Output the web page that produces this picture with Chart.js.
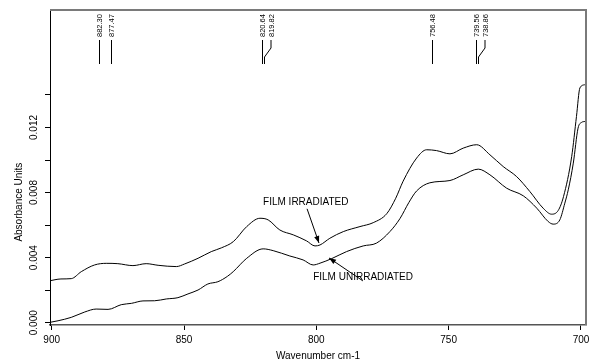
<!DOCTYPE html>
<html><head><meta charset="utf-8">
<script src="https://cdn.jsdelivr.net/npm/chart.js@4/dist/chart.umd.min.js"></script>
<style>html,body{margin:0;padding:0;background:#fff;}canvas{display:block;}</style>
</head><body>
<canvas id="c" width="594" height="362"></canvas>
<script>
// ---- data ----
const irradiatedWavenumber = [901.0, 896.5, 892.6, 888.8, 883.8, 879.4, 875.0, 869.3, 864.3, 859.8, 852.9, 849.8, 844.7, 839.7, 835.9, 831.4, 826.3, 821.3, 818.2, 813.8, 808.7, 803.7, 800.5, 798.6, 794.9, 789.8, 783.5, 778.5, 773.4, 770.0, 767.2, 762.1, 758.3, 754.6, 749.5, 744.5, 739.4, 734.4, 729.4, 724.3, 719.3, 714.3, 711.1, 708.6, 706.6, 703.5, 701.7, 700.4, 698.5];
const irradiatedAbsorbance = [0.00257, 0.00269, 0.00271, 0.00314, 0.00355, 0.00365, 0.00363, 0.00351, 0.00363, 0.00353, 0.00345, 0.00361, 0.00396, 0.00437, 0.00460, 0.00498, 0.00591, 0.00642, 0.00632, 0.00570, 0.00540, 0.00503, 0.00472, 0.00478, 0.00519, 0.00560, 0.00591, 0.00615, 0.00670, 0.00765, 0.00870, 0.01012, 0.01063, 0.01058, 0.01038, 0.01073, 0.01094, 0.01032, 0.00960, 0.00898, 0.00806, 0.00704, 0.00667, 0.00690, 0.00775, 0.01022, 0.01268, 0.01443, 0.01463];
const unirradiatedWavenumber = [901.4, 897.6, 892.6, 887.5, 883.2, 878.7, 873.7, 869.9, 865.5, 861.1, 856.7, 852.3, 848.5, 844.7, 841.0, 837.2, 833.6, 831.4, 826.3, 820.1, 816.3, 810.0, 805.0, 801.2, 798.6, 794.2, 788.6, 782.3, 777.3, 772.2, 768.4, 765.0, 762.1, 757.1, 749.5, 744.5, 738.8, 734.4, 728.1, 721.8, 716.7, 712.4, 710.5, 708.0, 706.1, 704.8, 702.9, 701.1, 699.8, 698.5];
const unirradiatedAbsorbance = [0.00000, 0.00012, 0.00033, 0.00066, 0.00084, 0.00082, 0.00111, 0.00119, 0.00134, 0.00135, 0.00146, 0.00154, 0.00177, 0.00201, 0.00238, 0.00252, 0.00285, 0.00314, 0.00396, 0.00454, 0.00443, 0.00410, 0.00386, 0.00355, 0.00366, 0.00394, 0.00437, 0.00472, 0.00489, 0.00560, 0.00640, 0.00740, 0.00810, 0.00860, 0.00874, 0.00909, 0.00944, 0.00909, 0.00827, 0.00780, 0.00704, 0.00622, 0.00606, 0.00632, 0.00735, 0.00817, 0.00981, 0.01196, 0.01231, 0.01237];
const xTickValues = [900, 850, 800, 750, 700];
const yTickValues = [0, 0.002, 0.004, 0.006, 0.008, 0.010, 0.012, 0.014];
const yLabelValues = [0, 0.004, 0.008, 0.012];
const peakWavenumbers = [882.30, 877.47, 820.64, 819.82, 756.48, 739.56, 738.86];
const peakLabels = ['882.30', '877.47', '820.64', '819.82', '756.48', '739.56', '738.86'];
const annotationTexts = ['FILM IRRADIATED', 'FILM UNIRRADIATED'];
// annotation anchors in data units: [text x, text y, arrow tail x, tail y, arrow tip x, tip y]
const annotationAnchors = [
  [804.0, 0.00738, 803.5, 0.00700, 799.0, 0.00490],
  [801.2, 0.00277, 782.4, 0.00257, 795.2, 0.00398]
];

const FONT = '"Liberation Sans", Arial, sans-serif';

function toPoints(xs, ys) { return xs.map((v, i) => ({x: v, y: ys[i]})); }

const extras = {
  id: 'extras',
  afterDraw(chart) {
    const ctx = chart.ctx, a = chart.chartArea, xs = chart.scales.x, ys = chart.scales.y;
    ctx.save();
    // frame: top and right gray
    ctx.strokeStyle = '#7a7a7a';
    ctx.lineWidth = 2;
    ctx.beginPath();
    ctx.moveTo(a.left, a.top); ctx.lineTo(a.right, a.top); ctx.lineTo(a.right, a.bottom);
    ctx.stroke();

    // y tick labels (rotated)
    ctx.fillStyle = '#000';
    ctx.font = '10px ' + FONT;
    ctx.textAlign = 'center'; ctx.textBaseline = 'middle';
    yLabelValues.forEach(v => {
      const py = ys.getPixelForValue(v);
      ctx.save(); ctx.translate(a.left - 16, py); ctx.rotate(-Math.PI / 2);
      ctx.fillText(v.toFixed(3), 0, 0); ctx.restore();
    });
    // y title
    ctx.save(); ctx.translate(a.left - 31, a.top + (a.bottom - a.top) * 0.61); ctx.rotate(-Math.PI / 2);
    ctx.fillText('Absorbance Units', 0, 0); ctx.restore();

    // peak markers
    ctx.strokeStyle = '#000'; ctx.lineWidth = 1;
    ctx.font = '7.5px ' + FONT;
    ctx.textAlign = 'left'; ctx.textBaseline = 'middle';
    peakWavenumbers.forEach((w, i) => {
      const xp = Math.round(xs.getPixelForValue(w)) + 0.5;
      const shifted = i > 0 && Math.abs(peakWavenumbers[i - 1] - w) < 2;
      const lx = shifted ? xp + 6.5 : xp;
      const t0 = a.top + 30, t1 = a.top + 38, t2 = a.top + 47, t3 = a.top + 54;
      ctx.beginPath();
      if (shifted) {
        ctx.moveTo(lx, t0); ctx.lineTo(lx, t1); ctx.lineTo(xp, t2); ctx.lineTo(xp, t3);
      } else {
        ctx.moveTo(xp, t0); ctx.lineTo(xp, t3);
      }
      ctx.stroke();
      ctx.save(); ctx.translate(lx + 0.5, a.top + 27); ctx.rotate(-Math.PI / 2);
      ctx.fillText(peakLabels[i], 0, 0); ctx.restore();
    });

    // annotations with arrows
    ctx.font = '10px ' + FONT;
    annotationTexts.forEach((txt, i) => {
      const an = annotationAnchors[i];
      const tx = xs.getPixelForValue(an[0]), ty = ys.getPixelForValue(an[1]);
      ctx.textBaseline = 'middle';
      ctx.textAlign = i === 0 ? 'center' : 'left';
      ctx.fillText(txt, tx, ty);
      const x0 = xs.getPixelForValue(an[2]), y0 = ys.getPixelForValue(an[3]);
      const x1 = xs.getPixelForValue(an[4]), y1 = ys.getPixelForValue(an[5]);
      ctx.beginPath(); ctx.moveTo(x0, y0); ctx.lineTo(x1, y1); ctx.stroke();
      const ang = Math.atan2(y1 - y0, x1 - x0), L = 7, W = 2.6;
      ctx.beginPath();
      ctx.moveTo(x1, y1);
      ctx.lineTo(x1 - L * Math.cos(ang) + W * Math.sin(ang), y1 - L * Math.sin(ang) - W * Math.cos(ang));
      ctx.lineTo(x1 - L * Math.cos(ang) - W * Math.sin(ang), y1 - L * Math.sin(ang) + W * Math.cos(ang));
      ctx.closePath(); ctx.fill();
    });
    ctx.restore();
  }
};

new Chart(document.getElementById('c'), {
  type: 'line',
  data: {
    datasets: [
      {label: 'FILM IRRADIATED', data: toPoints(irradiatedWavenumber, irradiatedAbsorbance)},
      {label: 'FILM UNIRRADIATED', data: toPoints(unirradiatedWavenumber, unirradiatedAbsorbance)}
    ]
  },
  options: {
    responsive: false,
    animation: false,
    parsing: false,
    layout: {padding: {left: 0, right: 8, top: 10, bottom: 0}},
    elements: {
      line: {borderColor: '#000', borderWidth: 1, cubicInterpolationMode: 'monotone', fill: false},
      point: {radius: 0}
    },
    plugins: {legend: {display: false}, tooltip: {enabled: false}},
    scales: {
      x: {
        type: 'linear', reverse: true, min: 698.1, max: 900.64,
        afterBuildTicks: s => { s.ticks = xTickValues.map(v => ({value: v})); },
        afterFit: s => { s.height = 37; },
        ticks: {autoSkip: false, maxRotation: 0, color: '#000', padding: 4,
                font: {family: FONT, size: 10}, callback: v => String(v)},
        grid: {drawOnChartArea: false, drawTicks: true, tickLength: 5, color: '#000'},
        border: {color: '#555', width: 1.5},
        title: {display: true, text: 'Wavenumber cm-1', color: '#000',
                font: {family: FONT, size: 10}, padding: {top: 0, bottom: 0}}
      },
      y: {
        type: 'linear', min: -0.00014, max: 0.01922,
        afterBuildTicks: s => { s.ticks = yTickValues.map(v => ({value: v})); },
        afterFit: s => { s.width = 50; },
        ticks: {display: false},
        grid: {drawOnChartArea: false, drawTicks: true, tickLength: 5, color: '#000'},
        border: {color: '#000', width: 1}
      }
    }
  },
  plugins: [extras]
});
</script>
</body></html>
